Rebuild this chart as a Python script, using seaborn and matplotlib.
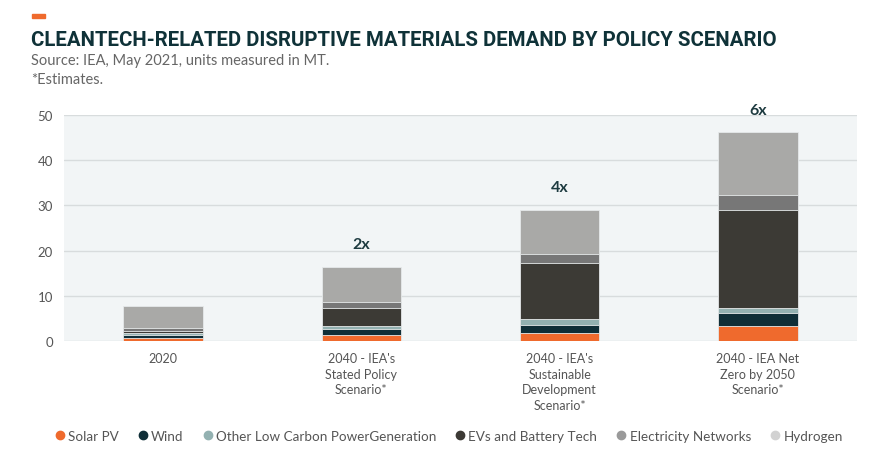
import matplotlib
matplotlib.use('Agg')
import matplotlib.pyplot as plt
from matplotlib.lines import Line2D
from matplotlib.patches import Rectangle
import seaborn as sns
import pandas as pd
import numpy as np

# data (MT)
scenarios = ['2020', "2040 - IEA's\nStated Policy\nScenario*",
             "2040 - IEA's\nSustainable\nDevelopment\nScenario*",
             '2040 - IEA Net\nZero by 2050\nScenario*']
segments = ['Solar PV', 'Wind', 'Other Low Carbon PowerGeneration',
            'EVs and Battery Tech', 'Electricity Networks', 'Hydrogen']
solar_pv = [0.6, 1.4, 1.8, 3.25]
wind = [0.8, 1.25, 1.8, 2.9]
other_low_carbon = [0.35, 0.6, 1.2, 1.25]
evs_battery = [0.4, 4.05, 12.5, 21.5]
electricity_networks = [0.75, 1.4, 1.85, 3.3]
hydrogen = [4.9, 7.75, 9.9, 14.0]
multipliers = ['', '2x', '4x', '6x']

bar_colors = ['#ef6a2d', '#0f2e37', '#93b1b1', '#3c3a35', '#777777', '#a9a9a7']
legend_colors = ['#ef6a2d', '#0f2e37', '#93b1b1', '#3c3a35', '#9a9a9a', '#d2d2d2']

df = pd.DataFrame({'scenario': scenarios,
                   'Solar PV': solar_pv, 'Wind': wind,
                   'Other Low Carbon PowerGeneration': other_low_carbon,
                   'EVs and Battery Tech': evs_battery,
                   'Electricity Networks': electricity_networks,
                   'Hydrogen': hydrogen})
cum = df[segments].cumsum(axis=1)

sns.set_style('white')
plt.rcParams['font.family'] = ['Lato', 'DejaVu Sans']

fig = plt.figure(figsize=(8.78, 4.64), dpi=100)
ax = fig.add_axes([0.0729, 0.263, 0.9032, 0.487])
ax.set_facecolor('#f2f5f6')

# stacked bars: draw cumulative totals from the top layer down
for i in range(len(segments) - 1, -1, -1):
    sns.barplot(x=df['scenario'], y=cum[segments[i]], color=bar_colors[i],
                width=0.4, saturation=1, edgecolor='#e6e9ea', linewidth=0.6,
                ax=ax, order=scenarios)

totals = cum[segments[-1]]
for i, lab in enumerate(multipliers):
    if lab:
        ax.annotate(lab, (i, totals[i]), xytext=(0, 11), textcoords='offset points',
                    ha='center', va='bottom', fontsize=11.5, fontweight='bold',
                    color='#1e3b40')

ax.set_xlim(-0.5, 3.5)
ax.set_ylim(0, 50)
ax.set_yticks([0, 10, 20, 30, 40, 50])
ax.yaxis.grid(True, color='#d8dcdd', linewidth=1)
ax.set_axisbelow(True)
for s in ax.spines.values():
    s.set_visible(False)
ax.tick_params(axis='y', length=5, color='#cfd2d3', labelcolor='#555555',
               labelsize=9.5, pad=3)
ax.tick_params(axis='x', length=0, labelcolor='#555555', labelsize=9, pad=8)
for t in ax.get_xticklabels():
    t.set_linespacing(1.35)
ax.set_xlabel('')
ax.set_ylabel('')

# header
fig.patches.append(Rectangle((32 / 878, 1 - 19 / 464), 13 / 878, 4 / 464,
                             transform=fig.transFigure, color='#ef6a2d'))
fig.text(31 / 878, 1 - 40 / 464,
         'CLEANTECH-RELATED DISRUPTIVE MATERIALS DEMAND BY POLICY SCENARIO',
         fontsize=14.7, fontweight='bold', color='#0f3238', va='center',
         family=['Roboto', 'DejaVu Sans'])
fig.text(31 / 878, 1 - 61 / 464, 'Source: IEA, May 2021, units measured in MT.',
         fontsize=10.5, color='#666666', va='center')
fig.text(31 / 878, 1 - 80 / 464, '*Estimates.', fontsize=10.5, color='#666666',
         va='center')

handles = [Line2D([], [], marker='o', linestyle='', markersize=6,
                  markerfacecolor=c, markeredgecolor=c) for c in legend_colors]
fig.legend(handles, segments, loc='center', bbox_to_anchor=(0.51, 1 - 437 / 464),
           ncol=6, frameon=False, fontsize=9.7, labelcolor='#555555',
           handletextpad=0.1, columnspacing=1.3, handlelength=1)

fig.savefig('out.png', dpi=100)
